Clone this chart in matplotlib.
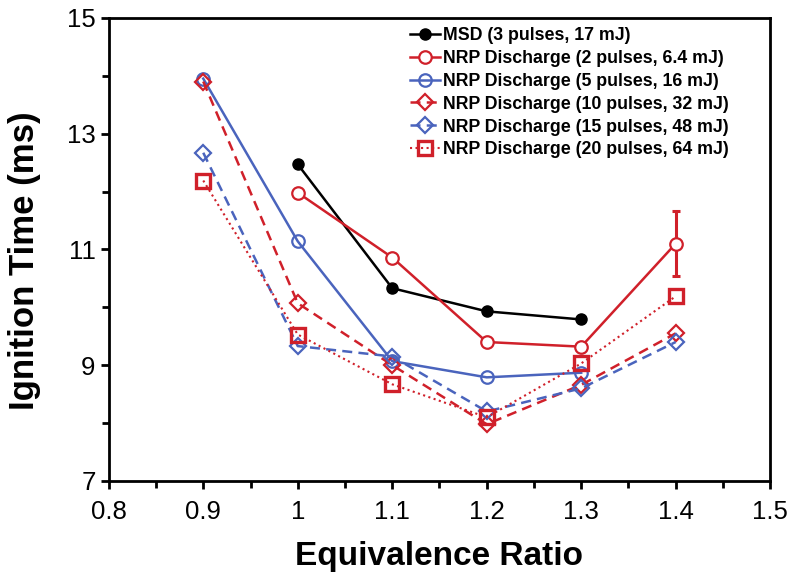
import matplotlib.pyplot as plt
import numpy as np

plt.rcParams['font.family'] = ['Liberation Sans', 'DejaVu Sans']

# equivalence ratio values
phi_msd = [1.0, 1.1, 1.2, 1.3]
t_msd = [12.47, 10.33, 9.93, 9.79]

phi_all = [0.9, 1.0, 1.1, 1.2, 1.3, 1.4]
phi_2p = [1.0, 1.1, 1.2, 1.3, 1.4]
t_2p = [11.98, 10.86, 9.40, 9.32, 11.10]
err_2p = [0, 0, 0, 0, 0.56]

phi_5p = [0.9, 1.0, 1.1, 1.2, 1.3]
t_5p = [13.95, 11.14, 9.07, 8.79, 8.87]

t_10p = [13.90, 10.07, 9.00, 7.98, 8.66, 9.55]
t_15p = [12.67, 9.33, 9.15, 8.20, 8.60, 9.40]
t_20p = [12.19, 9.53, 8.67, 8.10, 9.03, 10.19]

labels = ["MSD (3 pulses, 17 mJ)",
          "NRP Discharge (2 pulses, 6.4 mJ)",
          "NRP Discharge (5 pulses, 16 mJ)",
          "NRP Discharge (10 pulses, 32 mJ)",
          "NRP Discharge (15 pulses, 48 mJ)",
          "NRP Discharge (20 pulses, 64 mJ)"]

red = '#d0202a'
blue = '#4a64bd'

fig = plt.figure(figsize=(7.94, 5.76), dpi=100)
ax = fig.add_axes([0.137, 0.165, 0.833, 0.804])

h0, = ax.plot(phi_msd, t_msd, '-o', color='black', lw=1.8, ms=8, label=labels[0])
ax.errorbar(phi_2p, t_2p, yerr=err_2p, fmt='none', ecolor=red,
            capsize=3, elinewidth=2.2, capthick=2.2)
h1, = ax.plot(phi_2p, t_2p, '-o', color=red, lw=1.8, ms=9, mfc='white', mew=1.6,
              label=labels[1])
h2, = ax.plot(phi_5p, t_5p, '-o', color=blue, lw=1.8, ms=9, mfc='none', mew=1.6,
              label=labels[2])
h3, = ax.plot(phi_all, t_10p, '--D', color=red, lw=1.8, ms=8, mfc='none', mew=1.6,
              dashes=(4, 2.5), label=labels[3])
h4, = ax.plot(phi_all, t_15p, '--D', color=blue, lw=1.8, ms=8, mfc='none', mew=1.6,
              dashes=(4, 2.5), label=labels[4])
h5, = ax.plot(phi_all, t_20p, ':s', color=red, lw=1.5, ms=9.5, mfc='none', mew=2.4,
              label=labels[5])

ax.set_xlim(0.8, 1.5)
ax.set_ylim(7, 15)
ax.set_xticks(np.arange(0.8, 1.51, 0.1))
ax.set_xticklabels(['0.8', '0.9', '1', '1.1', '1.2', '1.3', '1.4', '1.5'])
ax.set_yticks([7, 9, 11, 13, 15])
ax.set_xticks(np.arange(0.85, 1.5, 0.1), minor=True)
ax.set_yticks([8, 10, 12, 14], minor=True)
ax.tick_params(which='both', direction='out', width=2, labelsize=18.5)
ax.tick_params(which='major', length=6)
ax.tick_params(which='minor', length=5)
ax.tick_params(axis='x', pad=8)
for s in ax.spines.values():
    s.set_linewidth(2)

ax.set_xlabel('Equivalence Ratio', fontsize=24, fontweight='bold', labelpad=12)
ax.set_ylabel('Ignition Time (ms)', fontsize=25, fontweight='bold')
ax.yaxis.set_label_coords(-0.102, 0.475)

leg = ax.legend(handles=[h0, h1, h2, h3, h4, h5], loc='upper left',
                bbox_to_anchor=(0.455, 0.98), frameon=False,
                prop={'weight': 'bold', 'size': 12.8},
                handlelength=1.7, handletextpad=0.2, labelspacing=0.33,
                borderpad=0, borderaxespad=0)

fig.savefig('out.png', dpi=100)
